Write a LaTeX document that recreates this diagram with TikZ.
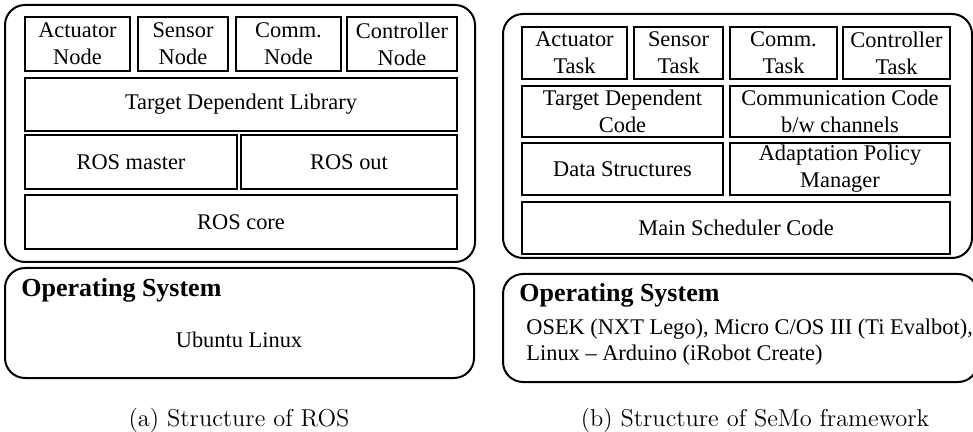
\documentclass[tikz,border=0pt]{standalone}
\usepackage{fontspec}
\newfontfamily\tnr[Ligatures=TeX]{Liberation Serif}
\usetikzlibrary{fit}
\begin{document}
\begin{tikzpicture}[x=0.5pt,y=-0.5pt,
  box/.style={draw, line width=0.9pt, inner sep=0pt},
  lbl/.style={inner sep=0pt, align=center, font=\tnr\fontsize{11.2}{13.5}\selectfont},
  frame/.style={draw, line width=1pt, rounded corners=10pt, inner sep=0pt},
  ostitle/.style={anchor=base west, inner sep=0pt, font=\tnr\bfseries\fontsize{13}{15}\selectfont},
  ostext/.style={inner sep=0pt, font=\tnr\fontsize{11.2}{13.5}\selectfont},
  captext/.style={anchor=base, inner sep=0pt, font=\fontsize{12.2}{14}\selectfont}
]
\useasboundingbox (0,0) rectangle (973,432);
% ---- left panel
\node[frame, fit={(5,5)(475,262)}] (lf) {};
\node[box, fit={(25,17)(130,71)}] (la) {};
\node[lbl] (lat) at (la) {Actuator\\Node};
\node[box, fit={(138,17)(228,71)}] (ls) {};
\node[lbl] (lst) at (ls) {Sensor\\Node};
\node[box, fit={(236,17)(341,71)}] (lc) {};
\node[lbl] (lct) at (lc) {Comm.\\Node};
\node[box, fit={(347,17)(457,71)}] (lk) {};
\node[lbl] (lkt) at (lk) {Controller\\Node};
\node[box, fit={(25,78)(457,131)}] (ltd) {};
\node[lbl] (ltdt) at (ltd) {Target Dependent Library};
\node[box, fit={(25,135)(237,189)}] (lm) {};
\node[lbl] (lmt) at (lm) {ROS master};
\node[box, fit={(241,135)(457,189)}] (lo) {};
\node[lbl] (lot) at (lo) {ROS out};
\node[box, fit={(25,195)(457,249)}] (lcore) {};
\node[lbl] (lcoret) at (lcore) {ROS core};
\node[frame, fit={(5,268)(474,378)}] (los) {};
\node[ostitle] (losh) at (21,297) {Operating System};
\node[ostext, anchor=base] (lu) at (239,348) {Ubuntu Linux};
\node[captext] (capa) at (239,426) {(a) Structure of ROS};
% ---- right panel
\node[frame, fit={(503,14)(972,258)}] (rf) {};
\node[box, fit={(522,27)(627,79)}] (ra) {};
\node[lbl] (rat) at (ra) {Actuator\\Task};
\node[box, fit={(634,27)(723,79)}] (rs) {};
\node[lbl] (rst) at (rs) {Sensor\\Task};
\node[box, fit={(730,27)(837,79)}] (rc) {};
\node[lbl] (rct) at (rc) {Comm.\\Task};
\node[box, fit={(843,27)(950,79)}] (rk) {};
\node[lbl] (rkt) at (rk) {Controller\\Task};
\node[box, fit={(522,86)(723,137)}] (rtd) {};
\node[lbl] (rtdt) at (rtd) {Target Dependent\\Code};
\node[box, fit={(730,86)(950,137)}] (rcc) {};
\node[lbl] (rcct) at (rcc) {Communication Code\\b/w channels};
\node[box, fit={(522,143)(723,195)}] (rds) {};
\node[lbl] (rdst) at (rds) {Data Structures};
\node[box, fit={(730,143)(950,195)}] (rap) {};
\node[lbl] (rapt) at (rap) {Adaptation Policy\\Manager};
\node[box, fit={(522,202)(950,254)}] (rms) {};
\node[lbl] (rmst) at (rms) {Main Scheduler Code};
\node[frame, fit={(503,274)(978,382)}] (ros) {};
\node[ostitle] (rosh) at (519,302) {Operating System};
\node[ostext, anchor=base west] (r1) at (526,335) {OSEK (NXT Lego), Micro C/OS III (Ti Evalbot),};
\node[ostext, anchor=base west] (r2) at (526,360) {Linux -- Arduino (iRobot Create)};
\node[captext] (capb) at (755,426) {(b) Structure of SeMo framework};
\end{tikzpicture}
\end{document}
